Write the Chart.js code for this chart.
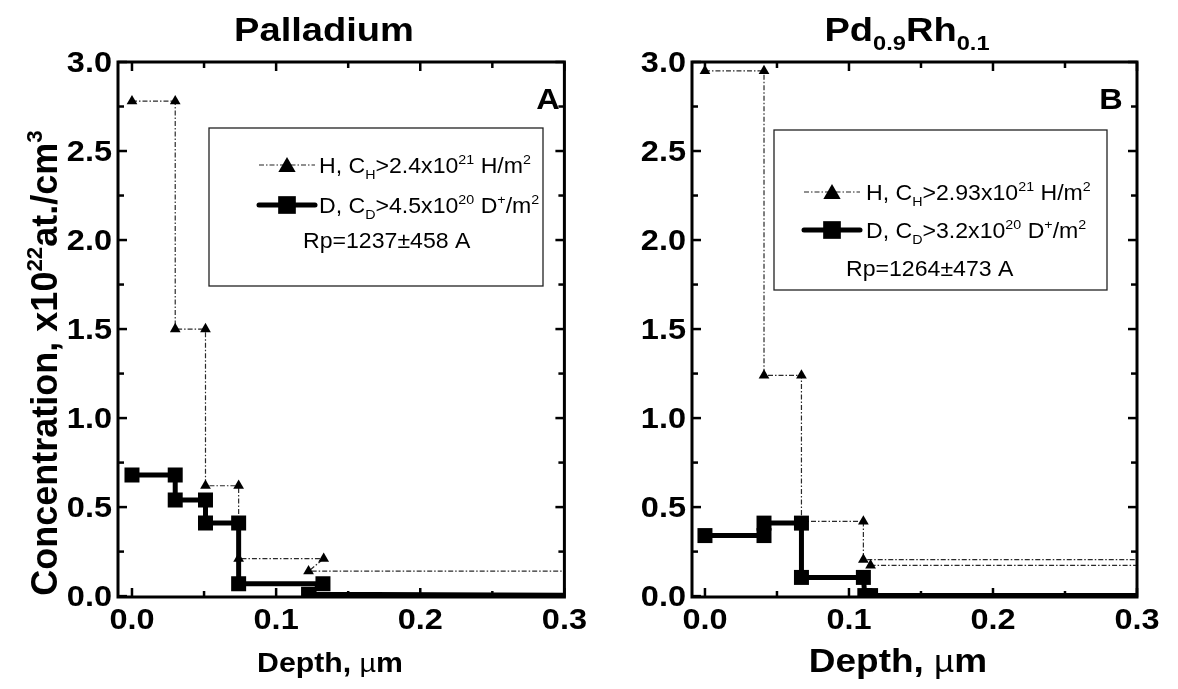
<!DOCTYPE html>
<html><head><meta charset="utf-8">
<script src="https://cdn.jsdelivr.net/npm/chart.js@4.4.1/dist/chart.umd.min.js"></script>
<style>
html,body{margin:0;padding:0;background:#fff;}
#wrap{position:relative;width:1178px;height:689px;overflow:hidden;}
canvas{position:absolute;top:0;}
</style></head><body>
<div id="wrap">
<canvas id="pd" width="589" height="689" style="left:0;width:589px;height:689px"></canvas>
<canvas id="pdrh" width="589" height="689" style="left:589px;width:589px;height:689px"></canvas>
</div>
<script>
// ---- Palladium: H and D depth profiles (depth in µm, concentration in 1e22 at./cm3)
const depthA_H = [0, 0.030, 0.030, 0.051, 0.051, 0.074, 0.074, 0.133, 0.1225, 0.3];
const concA_H  = [2.78, 2.78, 1.50, 1.50, 0.62, 0.62, 0.21, 0.21, 0.14, 0.14];
const depthA_D = [0, 0.030, 0.030, 0.051, 0.051, 0.074, 0.074, 0.1325, 0.1225, 0.3];
const concA_D  = [0.68, 0.68, 0.54, 0.54, 0.41, 0.41, 0.07, 0.07, 0.01, 0.005];

// ---- Pd0.9Rh0.1: H and D depth profiles (null breaks the H line)
const depthB_H = [0, 0.041, 0.041, 0.067, 0.067, 0.110, 0.110, 0.3, 0.3, 0.115, 0.3];
const concB_H  = [2.95, 2.95, 1.24, 1.24, 0.42, 0.42, 0.205, 0.205, null, 0.173, 0.173];
const depthB_D = [0, 0.041, 0.041, 0.067, 0.067, 0.110, 0.111, 0.115, 0.3];
const concB_D  = [0.34, 0.34, 0.41, 0.41, 0.105, 0.105, 0.003, 0.003, 0.003];

// ---- axis ticks
const xMajor = [0, 0.1, 0.2, 0.3];
const xMinor = [0.05, 0.15, 0.25];
const xTickLabels = ['0.0', '0.1', '0.2', '0.3'];
const yMajor = [0, 0.5, 1.0, 1.5, 2.0, 2.5, 3.0];
const yMinor = [0.25, 0.75, 1.25, 1.75, 2.25, 2.75];
const yTickLabels = ['0.0', '0.5', '1.0', '1.5', '2.0', '2.5', '3.0'];

// ---- texts
const titleA = [['Palladium']];
const titleB = [['Pd'], ['0.9', 'sub'], ['Rh'], ['0.1', 'sub']];
const yTitle = [['Concentration, x10'], ['22', 'sup'], ['at./cm'], ['3', 'sup']];
const xTitle = [['Depth, '], ['\u00B5', 'mu'], ['m']];
const legendA = [
  [['H, C'], ['H', 'sub'], ['>2.4x10'], ['21', 'sup'], [' H/m'], ['2', 'sup']],
  [['D, C'], ['D', 'sub'], ['>4.5x10'], ['20', 'sup'], [' D'], ['+', 'sup'], ['/m'], ['2', 'sup']],
  [['Rp=1237\u00B1458 A']]
];
const legendB = [
  [['H, C'], ['H', 'sub'], ['>2.93x10'], ['21', 'sup'], [' H/m'], ['2', 'sup']],
  [['D, C'], ['D', 'sub'], ['>3.2x10'], ['20', 'sup'], [' D'], ['+', 'sup'], ['/m'], ['2', 'sup']],
  [['Rp=1264\u00B1473 A']]
];

const FAMILY = "'Liberation Sans', Arial, Helvetica, sans-serif";
const H_DASH = [5, 2, 1.5, 2];

function fontFor(kind, size, weight) {
  if (kind === 'sub' || kind === 'sup') return weight + ' ' + (size * 0.62).toFixed(1) + 'px ' + FAMILY;
  if (kind === 'mu') return 'normal ' + (size * 0.95).toFixed(1) + 'px ' + FAMILY;
  return weight + ' ' + size + 'px ' + FAMILY;
}
function richWidth(ctx, parts, size, weight) {
  let w = 0;
  for (const [t, k] of parts) { ctx.font = fontFor(k, size, weight); w += ctx.measureText(t).width; }
  return w;
}
// draws mixed normal/sub/sup text; y is the vertical centre of capital letters
function drawRich(ctx, parts, x, y, o) {
  const size = o.size, weight = o.weight || 'normal', sx = o.sx || 1;
  const w = richWidth(ctx, parts, size, weight) * sx;
  let x0 = x;
  if (o.align === 'center') x0 = x - w / 2;
  else if (o.align === 'right') x0 = x - w;
  const base = y + 0.358 * size;
  ctx.save();
  ctx.translate(x0, base);
  ctx.scale(sx, 1);
  ctx.fillStyle = o.color || '#000';
  ctx.textBaseline = 'alphabetic';
  ctx.textAlign = 'left';
  let cx = 0;
  for (const [t, k] of parts) {
    ctx.font = fontFor(k, size, weight);
    let dy = 0;
    if (k === 'sub') dy = 0.27 * size;
    if (k === 'sup') dy = -0.42 * size;
    ctx.fillText(t, cx, dy);
    cx += ctx.measureText(t).width;
  }
  ctx.restore();
}

const panelDecor = {
  id: 'panelDecor',
  afterDraw(chart, args, p) {
    const ctx = chart.ctx;
    const xs = chart.scales.x, ys = chart.scales.y;
    const a = chart.chartArea;
    ctx.save();
    ctx.strokeStyle = '#000';
    ctx.lineCap = 'butt';
    // inward ticks on all four sides
    ctx.lineWidth = 2.5;
    const tick = (vals, len) => {
      for (const v of vals) {
        const px = xs.getPixelForValue(v);
        ctx.beginPath(); ctx.moveTo(px, a.bottom); ctx.lineTo(px, a.bottom - len); ctx.stroke();
        ctx.beginPath(); ctx.moveTo(px, a.top); ctx.lineTo(px, a.top + len); ctx.stroke();
      }
    };
    const tickY = (vals, len) => {
      for (const v of vals) {
        const py = ys.getPixelForValue(v);
        ctx.beginPath(); ctx.moveTo(a.left, py); ctx.lineTo(a.left + len, py); ctx.stroke();
        ctx.beginPath(); ctx.moveTo(a.right, py); ctx.lineTo(a.right - len, py); ctx.stroke();
      }
    };
    tick(xMajor, 9); tick(xMinor, 6);
    tickY(yMajor, 9); tickY(yMinor, 6);
    // frame
    ctx.lineWidth = 3;
    ctx.strokeRect(a.left, a.top, a.right - a.left, a.bottom - a.top);
    ctx.restore();

    // tick labels
    const tf = p.tickFont;
    xMajor.forEach((v, i) => drawRich(ctx, [[xTickLabels[i]]], xs.getPixelForValue(v), a.bottom + 22, {size: tf, weight: 'bold', align: 'center', sx: p.sx}));
    yMajor.forEach((v, i) => drawRich(ctx, [[yTickLabels[i]]], a.left - 6, ys.getPixelForValue(v), {size: tf, weight: 'bold', align: 'right', sx: p.sx}));

    // titles
    drawRich(ctx, p.title, p.titleX, 29, {size: p.titleFont, weight: 'bold', align: 'center', sx: p.sx});
    drawRich(ctx, xTitle, p.xTitleX, p.xTitleY, {size: p.xTitleFont, weight: 'bold', align: 'center', sx: p.sx});
    if (p.showYTitle) {
      ctx.save();
      ctx.translate(44, 363);
      ctx.rotate(-Math.PI / 2);
      drawRich(ctx, yTitle, 0, 0, {size: 36, weight: 'bold', align: 'center', sx: 1});
      ctx.restore();
    }
    // panel letter
    drawRich(ctx, [[p.letter]], p.letterX, 99, {size: 29, weight: 'bold', align: 'center', sx: p.sx});

    // legend box
    const L = p.legend;
    ctx.save();
    ctx.strokeStyle = '#222'; ctx.lineWidth = 1.3;
    ctx.strokeRect(L.x0, L.y0, L.x1 - L.x0, L.y1 - L.y0);
    // H sample
    ctx.strokeStyle = '#222'; ctx.lineWidth = 1.2; ctx.setLineDash(H_DASH);
    ctx.beginPath(); ctx.moveTo(L.symX - 28, L.rows[0]); ctx.lineTo(L.symX + 28, L.rows[0]); ctx.stroke();
    ctx.setLineDash([]);
    ctx.fillStyle = '#000'; ctx.strokeStyle = '#000';
    Chart.helpers.drawPoint(ctx, {pointStyle: 'triangle', radius: 10, rotation: 0, borderWidth: 0}, L.symX, L.rows[0] + 2);
    // D sample
    ctx.strokeStyle = '#000'; ctx.lineWidth = 5; ctx.lineCap = 'round';
    ctx.beginPath(); ctx.moveTo(L.symX - 28, L.rows[1]); ctx.lineTo(L.symX + 28, L.rows[1]); ctx.stroke();
    Chart.helpers.drawPoint(ctx, {pointStyle: 'rect', radius: 12.5, rotation: 0, borderWidth: 0}, L.symX, L.rows[1]);
    ctx.restore();
    drawRich(ctx, p.legendText[0], L.textX, L.rows[0], {size: p.legendFont, align: 'left', sx: p.legendSx});
    drawRich(ctx, p.legendText[1], L.textX, L.rows[1], {size: p.legendFont, align: 'left', sx: p.legendSx});
    drawRich(ctx, p.legendText[2], L.rpX, L.rows[2], {size: p.legendFont, align: 'left', sx: p.legendSx});
  }
};

function pts(xs, ys) { return xs.map((x, i) => ({x: x, y: ys[i]})); }
const hideAtEdge = (r) => (c) => (c.raw && c.raw.x >= 0.3 ? 0 : r);

function makeChart(id, hx, hy, dx, dy, pad, xmin, deco) {
  return new Chart(document.getElementById(id), {
    type: 'scatter',
    data: {
      datasets: [
        {
          label: 'D', data: pts(dx, dy), showLine: true, order: 0,
          borderColor: '#000', borderWidth: 5, borderCapStyle: 'round', borderJoinStyle: 'round',
          pointStyle: 'rect', pointRadius: hideAtEdge(10.6), pointHoverRadius: hideAtEdge(10.6),
          pointBackgroundColor: '#000', pointBorderWidth: 0, spanGaps: false
        },
        {
          label: 'H', data: pts(hx, hy), showLine: true, order: 1,
          borderColor: '#2a2a2a', borderWidth: 1.2, borderDash: H_DASH,
          pointStyle: 'triangle', pointRadius: hideAtEdge(6.2), pointHoverRadius: hideAtEdge(6.2),
          pointBackgroundColor: '#000', pointBorderWidth: 0, spanGaps: false
        }
      ]
    },
    options: {
      responsive: false, animation: false, devicePixelRatio: 1,
      layout: {padding: pad},
      plugins: {legend: {display: false}, tooltip: {enabled: false}, panelDecor: deco},
      scales: {
        x: {type: 'linear', min: xmin, max: 0.3,
            ticks: {display: false}, grid: {display: false}, border: {display: false},
            afterFit: (s) => { s.height = 0; }},
        y: {type: 'linear', min: -0.005, max: 3.0,
            ticks: {display: false}, grid: {display: false}, border: {display: false},
            afterFit: (s) => { s.width = 0; }}
      }
    },
    plugins: [panelDecor]
  });
}

makeChart('pd', depthA_H, concA_H, depthA_D, concA_D,
  {left: 118, right: 24.6, top: 62, bottom: 92}, -0.0097,
  {sx: 1.12, legendSx: 1.05, tickFont: 29, title: titleA, titleX: 324, titleFont: 34,
   xTitleX: 330, xTitleY: 662, xTitleFont: 27, showYTitle: true,
   letter: 'A', letterX: 548, legendFont: 22, legendText: legendA,
   legend: {x0: 209, y0: 128, x1: 543, y1: 286, rows: [165, 205, 240], symX: 287, textX: 319, rpX: 303}});

makeChart('pdrh', depthB_H, concB_H, depthB_D, concB_D,
  {left: 103, right: 41, top: 62, bottom: 92}, -0.009,
  {sx: 1.12, legendSx: 1.05, tickFont: 29, title: titleB, titleX: 907 - 589, titleFont: 34,
   xTitleX: 898 - 589, xTitleY: 660, xTitleFont: 33, showYTitle: false,
   letter: 'B', letterX: 1111 - 589, legendFont: 22, legendText: legendB,
   legend: {x0: 774 - 589, y0: 130, x1: 1107 - 589, y1: 290, rows: [192, 230, 268], symX: 832 - 589, textX: 866 - 589, rpX: 846 - 589}});
</script>
</body></html>
